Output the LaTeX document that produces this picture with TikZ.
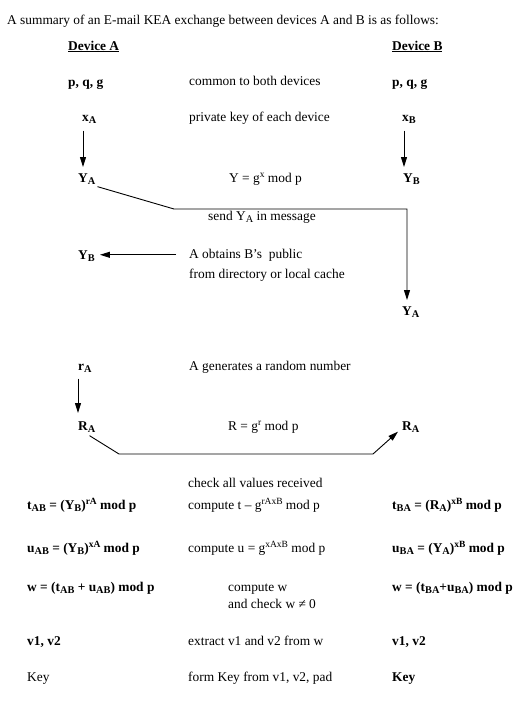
\documentclass[tikz,border=0pt]{standalone}
\usepackage{fontspec}
\setmainfont{Liberation Serif}
\usetikzlibrary{arrows.meta,calc}
\newcommand\dn[1]{\raisebox{-0.4ex}{\fontsize{10.3}{10.3}\selectfont #1}}
\newcommand\up[1]{\raisebox{0.8ex}{\fontsize{9.5}{9.5}\selectfont #1}}
\begin{document}
\begin{tikzpicture}[x=1pt,y=1pt,
 txt/.style={anchor=base west, inner sep=0pt, font=\fontsize{13.4}{16}\selectfont},
 bt/.style={txt, font=\fontsize{13.4}{16}\selectfont\bfseries},
 arr/.style={-{Triangle[length=10pt,width=6pt]}, line width=0.9pt},
 ln/.style={line width=0.9pt}]
\useasboundingbox (0,0) rectangle (518,-712);
\fill[white] (0,0) rectangle (518,-712);
\node[txt] (title) at (7,-24) {A summary of an E-mail KEA exchange between devices A and B is as follows:};
\node[bt] (devA) at (68,-50) {\underline{Device A}};
\node[bt] (devB) at (392,-50) {\underline{Device B}};
\node[bt] (pqgA) at (68,-86) {p, q, g};
\node[txt] (common) at (189,-85) {common to both devices};
\node[bt] (pqgB) at (392,-86) {p, q, g};
\node[bt] (xA) at (82,-121) {x\dn{A}};
\node[txt] (priv) at (189,-121) {private key of each device};
\node[bt] (xB) at (402,-121) {x\dn{B}};
\node[bt] (YA) at (78,-182) {Y\dn{A}};
\node[txt] (Yeq) at (229,-182) {Y = g\up{x} mod p};
\node[bt] (YB) at (403,-182) {Y\dn{B}};
\node[txt] (send) at (208,-220) {send Y\dn{A} in message};
\node[bt] (YBl) at (78,-259) {Y\dn{B}};
\node[txt] (obt1) at (189,-258) {A obtains B’s\ \ public};
\node[txt] (obt2) at (189,-278) {from directory or local cache};
\node[bt] (YAr) at (402,-315) {Y\dn{A}};
\node[bt] (rA) at (78,-370) {r\dn{A}};
\node[txt] (gen) at (189,-370) {A generates a random number};
\node[bt] (RA) at (78,-430) {R\dn{A}};
\node[txt] (Req) at (228,-430) {R = g\up{r} mod p};
\node[bt] (RAr) at (402,-430) {R\dn{A}};
\node[txt] (check) at (188,-487) {check all values received};
\node[bt] (tAB) at (27,-509) {t\dn{AB} = (Y\dn{B})\up{rA} mod p};
\node[txt] (tc) at (188,-509) {compute t – g\up{rAxB} mod p};
\node[bt] (tBA) at (392,-509) {t\dn{BA} = (R\dn{A})\up{xB} mod p};
\node[bt] (uAB) at (27,-552) {u\dn{AB} = (Y\dn{B})\up{xA} mod p};
\node[txt] (uc) at (188,-552) {compute u = g\up{xAxB} mod p};
\node[bt] (uBA) at (392,-552) {u\dn{BA} = (Y\dn{A})\up{xB} mod p};
\node[bt] (wA) at (27,-591) {w = (t\dn{AB} + u\dn{AB}) mod p};
\node[txt] (wc) at (228,-591) {compute w};
\node[bt] (wB) at (392,-591) {w = (t\dn{BA}+u\dn{BA}) mod p};
\node[txt] (wchk) at (228,-608) {and check w ≠ 0};
\node[bt] (v12A) at (27,-645) {v1, v2};
\node[txt] (ext) at (188,-645) {extract v1 and v2 from w};
\node[bt] (v12B) at (392,-645) {v1, v2};
\node[txt] (keyA) at (27,-681) {Key};
\node[txt] (form) at (188,-681) {form Key from v1, v2, pad};
\node[bt] (keyB) at (392,-681) {Key};
% connectors
\draw[arr] ($(xA.south west)+(1,-7)$) -- ($(xA.south west |- YA.north)+(1,6)$);
\draw[arr] ($(xB.south west)+(2,-7)$) -- ($(xB.south west |- YB.north)+(2,6)$);
\draw[arr] ($(YA.south east)+(2,-2)$) -- (174,-209) -| ($(YAr.north west)+(5,6)$);
\draw[arr] ($(obt1.west)+(-13,0)$) -- ($(YBl.east |- obt1.west)+(5,0)$);
\draw[arr] ($(rA.south west)+(0,-6)$) -- ($(rA.south west |- RA.north)+(0,8)$);
\draw[arr] ($(RA.south east)+(-6,-3)$) -- (119,-454) -- (373,-454) -- ($(RAr.south west)+(-4,1)$);
\end{tikzpicture}
\end{document}
